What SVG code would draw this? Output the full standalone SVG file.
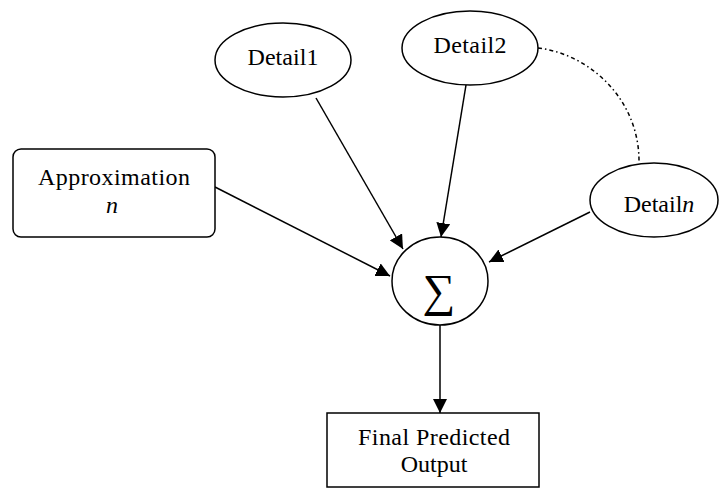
<svg xmlns="http://www.w3.org/2000/svg" width="719" height="488" viewBox="0 0 719 488">
<defs>
<style>
.shape{fill:#fff;stroke:#000;stroke-width:1.5}
.t{font-family:'Times New Roman','Liberation Serif','DejaVu Serif',serif;font-size:24px;fill:#000;text-anchor:middle}
.edge{stroke:#000;stroke-width:1.5;fill:none}
</style>
<marker id="ah" viewBox="0 0 10 10" refX="10" refY="5" markerWidth="14" markerHeight="14" markerUnits="userSpaceOnUse" orient="auto">
<path d="M0,0 L10,5 L0,10 z" fill="#000"/>
</marker>
</defs>
<rect width="719" height="488" fill="#fff"/>
<g id="connectors">
<line class="edge" x1="215" y1="187" x2="390" y2="276" marker-end="url(#ah)"/>
<line class="edge" x1="316" y1="98" x2="403" y2="249" marker-end="url(#ah)"/>
<line class="edge" x1="466" y1="85" x2="441" y2="237" marker-end="url(#ah)"/>
<line class="edge" x1="590" y1="212" x2="489" y2="262" marker-end="url(#ah)"/>
<line class="edge" x1="440" y1="325" x2="440" y2="413" marker-end="url(#ah)"/>
<path class="edge" d="M538,48 C590,54 640,100 639,163" stroke-dasharray="4 3 1.5 3"/>
</g>
<g id="approximation">
<rect class="shape" x="13" y="149" width="202" height="88" rx="8"/>
<text class="t" x="114" y="185" font-family="Times New Roman, Liberation Serif, serif" textLength="152">Approximation</text>
<text class="t" x="112" y="213" font-family="Times New Roman, Liberation Serif, serif" font-style="italic">n</text>
</g>
<g id="detail1">
<ellipse class="shape" cx="283" cy="60" rx="68" ry="37"/>
<text class="t" x="283" y="65" font-family="Times New Roman, Liberation Serif, serif" textLength="71">Detail1</text>
</g>
<g id="detail2">
<ellipse class="shape" cx="470" cy="48" rx="68" ry="37"/>
<text class="t" x="470" y="53" font-family="Times New Roman, Liberation Serif, serif" textLength="73">Detail2</text>
</g>
<g id="detailn">
<ellipse class="shape" cx="654" cy="200" rx="64" ry="37"/>
<text class="t" x="659" y="212" font-family="Times New Roman, Liberation Serif, serif">Detail<tspan font-style="italic">n</tspan></text>
</g>
<g id="sum">
<ellipse class="shape" cx="440" cy="281" rx="48" ry="44"/>
<text x="439" y="306" font-family="Times New Roman, Liberation Serif, serif" font-size="46" text-anchor="middle" fill="#000">∑</text>
</g>
<g id="output">
<rect class="shape" x="327" y="413" width="212" height="74"/>
<text class="t" x="434" y="445" font-family="Times New Roman, Liberation Serif, serif" textLength="152">Final Predicted</text>
<text class="t" x="434" y="472" font-family="Times New Roman, Liberation Serif, serif">Output</text>
</g>
</svg>
